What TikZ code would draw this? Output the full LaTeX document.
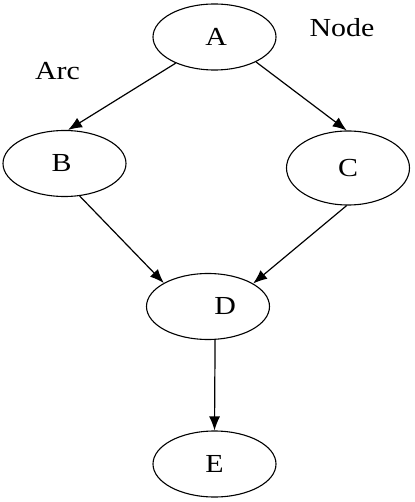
\documentclass[tikz,border=0pt]{standalone}
\usepackage{fontspec}
\setmainfont{Liberation Serif}
\usetikzlibrary{arrows.meta,shapes.geometric}
\newcommand{\sx}[1]{\scalebox{1.15}[1]{#1}}
\begin{document}
\begin{tikzpicture}[x=1pt,y=-1pt,
  ov/.style={ellipse,draw,line width=1.1pt,minimum width=123pt,minimum height=66pt,inner sep=0pt,font=\fontsize{26}{30}\selectfont},
  lab/.style={font=\fontsize{26}{30}\selectfont,inner sep=0pt},
  arc/.style={draw,line width=1.2pt,-{Latex[length=14pt,width=11pt]}}]
\useasboundingbox (0,0) rectangle (414,502);
\node[ov] (A) at (214.5,37) {\sx{\hspace*{3pt}A}};
\node[ov] (B) at (64.5,163.5) {\sx{B\hspace*{5pt}}};
\node[ov,minimum height=74pt] (C) at (348,168) {\sx{C}};
\node[ov] (D) at (208,306.5) {\sx{\hspace*{30pt}D}};
\node[ov] (E) at (214.5,464) {\sx{E}};
\node[lab] (node) at (342,27.5) {\sx{Node}};
\node[lab] (arc) at (57.5,71) {\sx{Arc}};
\draw[arc] (A.214) -- (B.84);
\draw[arc] (A.-31) -- (C.92);
\draw[arc] (B.-65) -- (D.152);
\draw[arc] (C.268) -- (D.27);
\draw[arc] (D.-78) -- (E.north);
\end{tikzpicture}
\end{document}
